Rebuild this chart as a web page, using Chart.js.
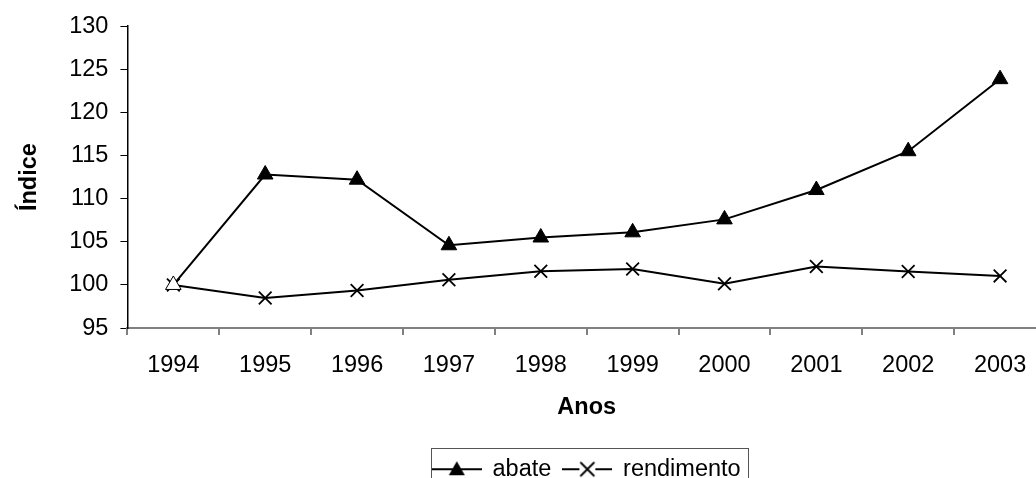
<!DOCTYPE html>
<html>
<head>
<meta charset="utf-8">
<script src="https://cdn.jsdelivr.net/npm/chart.js@4.4.0/dist/chart.umd.min.js"></script>
<style>
  html, body { margin: 0; padding: 0; background: #fff; overflow: hidden; width: 1036px; height: 478px; }
  #wrap { width: 1174px; height: 491px; }
</style>
</head>
<body>
<div id="wrap"><canvas id="grafico" width="1174" height="491"></canvas></div>
<script>
const anos = ['1994', '1995', '1996', '1997', '1998', '1999', '2000', '2001', '2002', '2003'];
const abate = [100, 112.8, 112.2, 104.6, 105.5, 106.1, 107.6, 111.0, 115.5, 123.85];
const rendimento = [100, 98.5, 99.35, 100.6, 101.6, 101.85, 100.15, 102.15, 101.55, 101.05];

const fonte = 'Liberation Sans, Arial, sans-serif';
const tamanho = 23.5;

function iconeLegenda(tipo) {
    const c = document.createElement('canvas');
    c.width = 50;
    c.height = 20;
    const g = c.getContext('2d');
    g.strokeStyle = '#000';
    g.lineWidth = 2;
    g.beginPath();
    g.moveTo(0, 10);
    g.lineTo(50, 10);
    g.stroke();
    if (tipo === 'triangulo') {
        g.fillStyle = '#000';
        g.beginPath();
        g.moveTo(25, 2);
        g.lineTo(33, 16);
        g.lineTo(17, 16);
        g.closePath();
        g.fill();
    } else {
        g.fillStyle = '#fff';
        g.fillRect(17, 2, 16, 16);
        g.lineWidth = 1.8;
        g.beginPath();
        g.moveTo(18, 3); g.lineTo(32, 17);
        g.moveTo(32, 3); g.lineTo(18, 17);
        g.stroke();
    }
    return c;
}

const caixaLegenda = {
    id: 'caixaLegenda',
    afterDraw(chart) {
        const boxes = chart.legend.legendHitBoxes;
        if (!boxes || !boxes.length) return;
        const first = boxes[0];
        const last = boxes[boxes.length - 1];
        const ctx = chart.ctx;
        ctx.save();
        ctx.strokeStyle = '#555';
        ctx.lineWidth = 1;
        ctx.strokeRect(Math.round(first.left - 2) + 0.5, Math.round(first.top - 10) + 0.5,
            Math.round(last.left + last.width - first.left + 9), 60);
        ctx.restore();
    }
};

new Chart(document.getElementById('grafico'), {
    type: 'line',
    data: {
        labels: anos,
        datasets: [{
            label: 'abate',
            data: abate,
            borderColor: '#000',
            borderWidth: 2,
            pointStyle: 'triangle',
            pointRadius: 9,
            pointBorderColor: '#000',
            pointBorderWidth: 1,
            pointBackgroundColor: anos.map((a, i) => i === 0 ? '#fff' : '#000'),
            tension: 0,
        }, {
            label: 'rendimento',
            data: rendimento,
            borderColor: '#000',
            borderWidth: 2,
            pointStyle: 'crossRot',
            pointRadius: 9,
            pointBorderColor: '#000',
            pointBorderWidth: 1.8,
            pointBackgroundColor: '#000',
            tension: 0,
        }],
    },
    options: {
        responsive: false,
        animation: false,
        layout: { padding: { top: 7, right: 128, left: 11, bottom: 0 } },
        plugins: {
            tooltip: { enabled: false },
            legend: {
                position: 'bottom',
                fullSize: false,
                labels: {
                    color: '#000',
                    font: { family: fonte, size: tamanho },
                    usePointStyle: true,
                    pointStyleWidth: 48,
                    padding: 12,
                    generateLabels: (chart) => [
                        { text: 'abate', pointStyle: iconeLegenda('triangulo'), fontColor: '#000', lineWidth: 0, strokeStyle: 'rgba(0,0,0,0)', fillStyle: 'rgba(0,0,0,0)', datasetIndex: 0 },
                        { text: 'rendimento', pointStyle: iconeLegenda('cruz'), fontColor: '#000', lineWidth: 0, strokeStyle: 'rgba(0,0,0,0)', fillStyle: 'rgba(0,0,0,0)', datasetIndex: 1 },
                    ],
                },
            },
        },
        scales: {
            x: {
                offset: true,
                grid: { drawOnChartArea: false, offset: true, tickLength: 7, color: '#808080', lineWidth: 2 },
                border: { color: '#808080', width: 2 },
                ticks: { color: '#000', font: { family: fonte, size: tamanho }, padding: 16, maxRotation: 0 },
                title: { display: true, text: 'Anos', color: '#000', font: { family: fonte, size: tamanho, weight: 'bold' }, padding: { top: -2, bottom: 24 } },
            },
            y: {
                min: 95,
                max: 130,
                ticks: { stepSize: 5, color: '#000', font: { family: fonte, size: tamanho }, padding: 12 },
                grid: { drawOnChartArea: false, tickLength: 7, color: '#000', lineWidth: 1 },
                border: { color: '#000', width: 1.5 },
                title: { display: true, text: 'Índice', color: '#000', font: { family: fonte, size: tamanho, weight: 'bold' }, padding: { bottom: 14 } },
            },
        },
    },
    plugins: [caixaLegenda],
});
</script>
</body>
</html>
